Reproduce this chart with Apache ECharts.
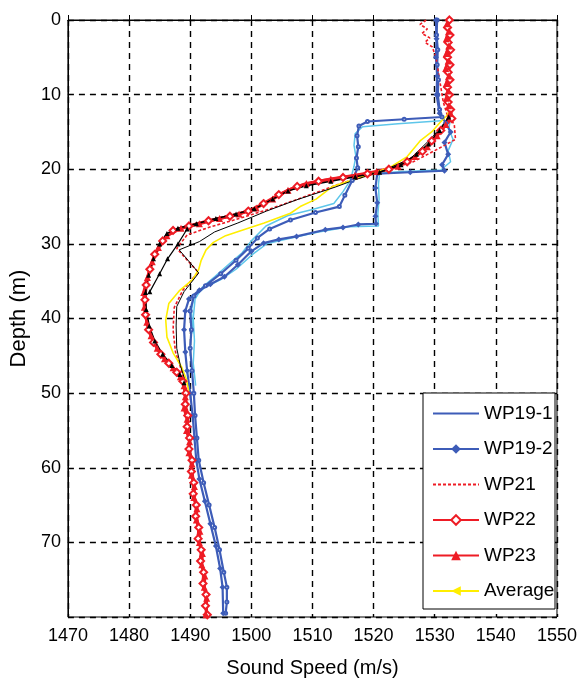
<!DOCTYPE html>
<html><head><meta charset="utf-8">
<script src="https://cdn.jsdelivr.net/npm/echarts@6/dist/echarts.min.js"></script>
<style>html,body{margin:0;padding:0;background:#fff}#c{width:580px;height:686px}</style>
</head><body><div id="c"></div>
<script>
// ---- axis ranges / ticks ----
const speedTicks = [1470, 1480, 1490, 1500, 1510, 1520, 1530, 1540, 1550];
const depthTicks = [0, 10, 20, 30, 40, 50, 60, 70, 80];

// ---- profiles: [sound speed (m/s), depth (m)] ----
const wp19_1 = [[1530.4,0],[1530.3,2],[1530.5,4],[1530.4,6],[1530.6,8],[1530.5,10],[1530.8,12],[1531.2,13.0],[1525,13.3],[1519,13.6],[1517.6,14.2],[1517.3,15.5],[1517.5,17],[1517.2,18.5],[1517.4,19.8],[1516.5,21.5],[1515.3,23.5],[1514.4,25],[1510.5,25.8],[1506.4,26.8],[1503,28],[1501,29.2],[1499.5,30.6],[1497.5,32.2],[1495,34],[1492.5,35.6],[1490.6,37],[1490,39],[1490.2,41.5],[1490,44],[1490.3,47],[1490.6,50],[1490.8,53],[1491.1,56],[1491.4,59],[1492.2,62],[1493.1,65],[1494,68],[1494.8,71],[1495.5,74],[1496,76],[1496,78],[1495.8,79.5]];
const wp19_2 = [[1530.2,0],[1530.3,2.5],[1530.2,5],[1530.4,7.5],[1530.3,10],[1530.8,12.5],[1531.8,13.8],[1532.6,15],[1531.6,16.4],[1532.2,18],[1531.2,19.4],[1531.6,20.2],[1526,20.4],[1520.6,20.6],[1520.3,22.5],[1520.6,24.5],[1520.3,26.3],[1520.4,27.3],[1517.5,27.4],[1515,27.8],[1512.1,28.1],[1507.4,29],[1504.5,29.4],[1502,29.9],[1500,31],[1497.8,32.8],[1495.6,34.4],[1493.3,35.4],[1491.5,36.2],[1489.8,37.4],[1489.2,39],[1489,41.5],[1489.2,44.5],[1489.5,47],[1490,50],[1490.4,53],[1490.7,56],[1491,59],[1491.5,61.5],[1492.4,64.5],[1493.3,67.5],[1494.2,70.5],[1494.9,73.5],[1495.3,76],[1495.4,79.5]];
const cyanA = [[1531,13.5],[1524,13.9],[1518.2,14.3],[1517,15.2],[1516.8,16.8],[1517.1,18.2],[1516.8,19.6],[1516.2,21.5],[1515,23],[1513.5,24.6],[1510,25.4],[1506,26.2],[1502.4,27.6],[1500,29.6],[1498.5,31.2],[1496.5,32.6],[1494,34.4],[1492,35.8],[1490.8,37.4],[1490.5,40],[1490.7,43],[1490.5,46],[1490.9,49]];
const cyanB = [[1532.6,13.2],[1532.3,14.6],[1533,16],[1532.2,17.5],[1532.6,19],[1531,20.1],[1525,20.3],[1521,20.5],[1520.8,22],[1520.9,24],[1520.7,26],[1520.8,27.6],[1516,27.7],[1511,28.4],[1506,29.3],[1502.5,30],[1500.2,31.4],[1497.5,33.4],[1495,34.8],[1492.5,35.8],[1490.6,37],[1490.2,39],[1490.5,42]];
const wp21 = [[1528.6,0],[1527.6,0.6],[1528.8,1.2],[1527.9,1.8],[1529.2,2.4],[1528.4,3.0],[1529.6,3.6],[1530.2,5],[1530.6,7],[1531,9],[1531.4,11],[1532,12.6],[1533.2,14],[1533.4,16],[1530,17.5],[1526.5,19],[1521,20.4],[1515,21.8],[1509,23.6],[1503.5,25.2],[1498,26.6],[1493,27.8],[1489.5,28.8],[1487.8,30.6],[1491.3,33.8],[1488.8,36.2],[1487.4,38.5],[1487.2,41.5],[1487.6,44.5],[1488.6,47],[1489.3,49.5],[1489.6,53],[1490,57],[1490.5,61],[1491,65],[1491.5,69],[1492,73],[1492.5,77],[1492.8,79.5]];
const wp22 = [[1532.4,0],[1532.1,1],[1532.5,2],[1532.2,3],[1532.6,4],[1532.1,5],[1532.5,6],[1532.2,7],[1532.5,8],[1532.1,9],[1532.4,10],[1532.2,11],[1532.6,12],[1532.8,13.2],[1531,14.8],[1529.5,16.2],[1528,17.6],[1525.5,19],[1522.5,20],[1519,20.6],[1515,21.1],[1511,21.6],[1507.5,22.3],[1504.5,23.4],[1502,24.6],[1499.5,25.6],[1496.5,26.3],[1493,26.9],[1489.8,27.6],[1487.2,28.2],[1485.5,29.6],[1484.2,31.4],[1483.4,33.4],[1482.8,35.5],[1482.6,37.5],[1482.7,39.5],[1483.2,41.5],[1484,43.2],[1485.2,44.8],[1486.5,46],[1487.8,47.2],[1488.8,48.4],[1489.3,50],[1489.2,51.5],[1489.6,53],[1489.5,54.5],[1489.9,56],[1489.8,57.5],[1490.3,59],[1490.2,60.5],[1490.6,62],[1490.5,63.5],[1491,65],[1490.9,66.5],[1491.4,68],[1491.3,69.5],[1491.8,71],[1491.7,72.5],[1492.2,74],[1492.1,75.5],[1492.6,77],[1492.5,78.5],[1492.8,79.7]];
const wp23 = [[1532.0,0.5],[1532.3,1.5],[1531.9,2.5],[1532.3,3.5],[1531.9,4.5],[1532.2,5.5],[1531.8,6.5],[1532.3,7.5],[1531.9,8.5],[1532.2,9.5],[1531.9,10.5],[1532.3,11.5],[1532.5,12.5],[1531.8,14],[1530.4,15.5],[1528.8,17],[1526.8,18.3],[1524,19.6],[1520.5,20.3],[1517,20.8],[1513,21.3],[1509,21.9],[1506,22.8],[1503.5,24],[1500.8,25.2],[1498,26],[1494.8,26.6],[1491.5,27.3],[1488.5,27.9],[1486.2,28.9],[1484.8,30.5],[1483.8,32.4],[1483,34.5],[1482.4,36.5],[1482.5,38.5],[1482.9,40.5],[1483.6,42.3],[1484.6,44],[1485.8,45.4],[1487.2,46.6],[1488.4,47.8],[1489,49],[1489.2,50.5],[1489,52],[1489.5,53.5],[1489.4,55],[1489.9,56.5],[1489.8,58],[1490.3,59.5],[1490.2,61],[1490.7,62.5],[1490.6,64],[1491.1,65.5],[1491,67],[1491.6,68.5],[1491.5,70],[1492,71.5],[1491.9,73],[1492.4,74.5],[1492.3,76],[1492.7,77.5],[1492.6,79.7]];
const average = [[1532.6,11.8],[1532,12.8],[1530.8,13.8],[1529.5,15],[1527.6,16.2],[1525.5,18.3],[1523,19.6],[1520.5,20.4],[1517,21.3],[1513.3,22.3],[1510.6,24],[1508,25],[1506.4,25.9],[1502.1,27.2],[1498,28.3],[1495.8,28.9],[1493.8,29.8],[1492.6,30.8],[1491.8,32.2],[1491.4,33.4],[1490.4,34.8],[1488.2,36.3],[1486.5,38],[1486,40.2],[1486.2,42.5],[1487.2,44.6],[1488.6,46.5],[1489.4,48.2],[1489.8,50]];
const blackTri = [[1532.3,13],[1530.8,14.8],[1529,16.6],[1527,18],[1524.5,19.4],[1521,20.4],[1517,21],[1513,21.6],[1509,22.2],[1506,22.9],[1503.5,24],[1500.5,25.3],[1497.5,26],[1494.2,26.6],[1491,27.3],[1488,27.9],[1486.2,28.6],[1485,30],[1484,32],[1483.2,34.2],[1482.7,36.5],[1482.8,38.8],[1483.3,41],[1484.2,43],[1485.5,44.8],[1487,46.3],[1488.3,47.5],[1489,48.6]];
const blackTri2 = [[1489.5,28],[1488,30],[1486.3,32],[1485,34],[1483.4,36.4]];
const blackThin = [[1532,13.4],[1529.5,15.8],[1526,18.6],[1521.5,20.2],[1517,21.4],[1513.7,22.4],[1507.4,24.1],[1502.5,25.6],[1497.8,27.2],[1494,28.4],[1491.5,29.7],[1488.2,30.8],[1491.4,33.9],[1489,36.4],[1487.8,38.4],[1487.7,41],[1487.8,44],[1488.4,46.3],[1489.2,48.4]];

const legendNames = ['WP19-1', 'WP19-2', 'WP21', 'WP22', 'WP23', 'Average'];

const FONT = "'Liberation Sans', Arial, sans-serif";
const BLUE = '#3d5cb8', RED = '#ee1c25', CYAN = '#5ec6ea', YEL = '#ffee00';

function line(name, data, color, width, extra) {
  return Object.assign({
    name: name, type: 'line', data: data, color: color,
    lineStyle: { color: color, width: width },
    symbol: 'none', showSymbol: false, animation: false, clip: true
  }, extra || {});
}

const series = [
  line('cyanB', cyanB, CYAN, 1.5),
  line('cyanA', cyanA, CYAN, 1.5),
  line('WP19-1', wp19_1, BLUE, 2.2, { symbol: 'emptyCircle', showSymbol: true, symbolSize: 3 }),
  line('WP19-2', wp19_2, BLUE, 2.2, { symbol: 'diamond', showSymbol: true, symbolSize: 6 }),
  line('WP21', wp21, RED, 1.6, { lineStyle: { color: RED, width: 1.6, type: [3, 2] } }),
  line('WP22', wp22, RED, 3, { symbol: 'emptyDiamond', showSymbol: true, symbolSize: 7, itemStyle: { color: RED, borderWidth: 2 } }),
  line('WP23', wp23, RED, 3, { symbol: 'triangle', showSymbol: true, symbolSize: 7 }),
  line('Average', average, YEL, 1.6, { symbol: 'triangle', symbolRotate: 90, symbolSize: 6, showSymbol: false }),
  line('blackThin', blackThin, '#000', 1),
  line('blackTri2', blackTri2, '#000', 1.2, { symbol: 'triangle', showSymbol: true, symbolSize: 5 }),
  line('blackTri', blackTri, '#000', 1.5, { symbol: 'triangle', showSymbol: true, symbolSize: 5 })
];

const legendData = legendNames.map(function (n) {
  return (n === 'WP19-1' || n === 'WP21') ? { name: n, itemStyle: { opacity: 0 } } : { name: n };
});

const chart = echarts.init(document.getElementById('c'), null, { renderer: 'canvas' });
chart.setOption({
  animation: false,
  backgroundColor: '#fff',
  grid: { left: 58, right: 19, top: 20, bottom: 69, show: true, borderColor: '#000', borderWidth: 1, backgroundColor: 'transparent' },
  xAxis: {
    type: 'value', min: speedTicks[0], max: speedTicks[speedTicks.length - 1], interval: speedTicks[1] - speedTicks[0],
    axisLine: { show: true, lineStyle: { color: '#000', width: 1 } },
    axisTick: { show: true, inside: true, length: 5, lineStyle: { color: '#000' } },
    axisLabel: { color: '#000', fontSize: 18, fontFamily: FONT, margin: 10, formatter: function (v) { return String(v); } },
    splitLine: { show: true, lineStyle: { color: '#000', type: [6, 5], width: 1.4 } },
    name: 'Sound Speed (m/s)', nameLocation: 'middle', nameGap: 41,
    nameTextStyle: { color: '#000', fontSize: 20, fontFamily: FONT }
  },
  yAxis: {
    type: 'value', inverse: true, min: depthTicks[0], max: depthTicks[depthTicks.length - 1], interval: depthTicks[1] - depthTicks[0],
    axisLine: { show: true, lineStyle: { color: '#000', width: 1 } },
    axisTick: { show: true, inside: true, length: 5, lineStyle: { color: '#000' } },
    axisLabel: { color: '#000', fontSize: 18, fontFamily: FONT, margin: 7, showMaxLabel: false, formatter: function (v) { return String(v); } },
    splitLine: { show: true, lineStyle: { color: '#000', type: [6, 5], width: 1.4 } },
    name: 'Depth (m)', nameLocation: 'middle', nameGap: 30,
    nameTextStyle: { color: '#000', fontSize: 22, fontFamily: FONT }
  },
  graphic: [{
    type: 'rect', z: 3, shape: { x: 423, y: 393, width: 132, height: 216 },
    style: { fill: '#fff', stroke: '#000', lineWidth: 1 }
  }],
  legend: {
    data: legendData, orient: 'vertical', left: 432, top: 404, padding: 0,
    itemWidth: 46, itemHeight: 12, itemGap: 16.5, selectedMode: false, z: 5,
    textStyle: { color: '#000', fontSize: 19, fontFamily: FONT }
  },
  series: series
});
</script></body></html>
